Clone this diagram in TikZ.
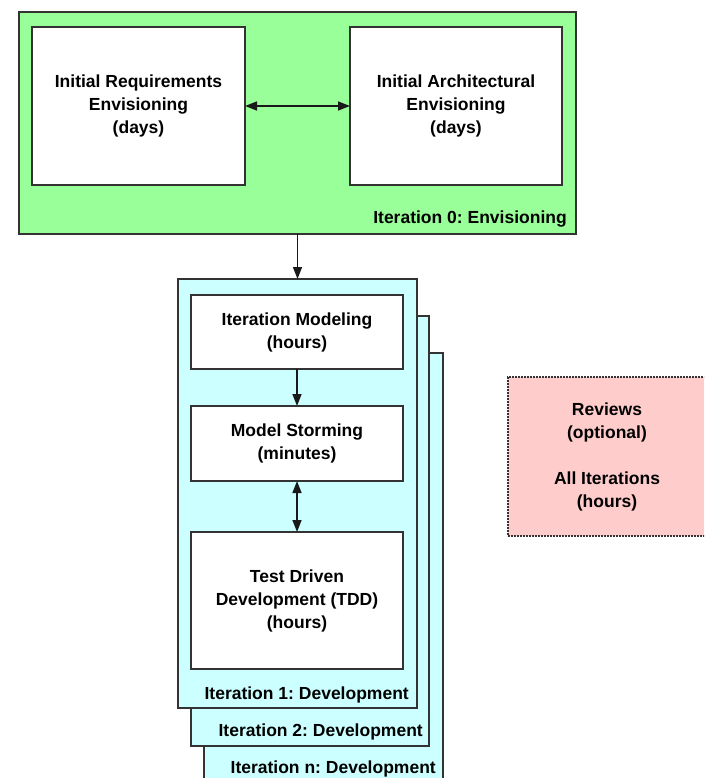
\documentclass[tikz,border=0pt]{standalone}
\usepackage{fontspec}
\setmainfont{Liberation Sans}
\usetikzlibrary{arrows.meta,calc}
\frenchspacing
\definecolor{envgreen}{HTML}{99FF99}
\definecolor{devcyan}{HTML}{CCFFFF}
\definecolor{revpink}{HTML}{FFCCCC}
\definecolor{edge}{HTML}{333333}
\tikzset{
  every node/.style={font=\fontsize{17.5}{23}\selectfont\bfseries},
  box/.style={draw=edge, line width=1.8pt, align=center, inner sep=0pt, outer sep=0pt},
  whitebox/.style={box, fill=white},
  phase/.style={box},
  lbl/.style={inner sep=0pt, anchor=base east},
  conn/.style={draw=black!90, line width=1.6pt, -{Triangle[length=12pt,width=9pt]}},
  dconn/.style={draw=black!90, line width=1.6pt, {Triangle[length=12pt,width=9pt]}-{Triangle[length=12pt,width=9pt]}}
}
\begin{document}
\begin{tikzpicture}[x=1pt,y=-1pt]
\useasboundingbox (0,0) rectangle (704,778);
\clip (0,0) rectangle (704,778);
% Iteration 0
\node[phase, fill=envgreen, minimum width=557pt, minimum height=222pt] (g) at (297.5,123) {};
\node[whitebox, minimum width=213pt, minimum height=158pt] (ire) at (138.5,106) {Initial Requirements\\Envisioning\\(days)};
\node[whitebox, minimum width=212pt, minimum height=158pt] (iae) at (456,106) {Initial Architectural\\Envisioning\\(days)};
\node[lbl] (gl) at ($(g.south east)+(-9,-11)$) {Iteration 0: Envisioning};
\draw[dconn] (ire) -- (iae);
% Development stack
\node[phase, fill=devcyan, minimum width=239pt, minimum height=437pt] (c3) at (323.5,571.5) {};
\node[phase, fill=devcyan, minimum width=238pt, minimum height=430pt] (c2) at (310,531) {};
\node[phase, fill=devcyan, minimum width=239pt, minimum height=429pt] (c1) at (297.5,493.5) {};
\node[lbl] (c3l) at (436,773) {Iteration n: Development};
\node[lbl] (c2l) at ($(c2.south east)+(-6,-10)$) {Iteration 2: Development};
\node[lbl] (c1l) at ($(c1.south east)+(-8,-9)$) {Iteration 1: Development};
\node[whitebox, minimum width=212pt, minimum height=74pt] (im) at (297,332) {Iteration Modeling\\(hours)};
\node[whitebox, minimum width=212pt, minimum height=75pt] (ms) at (297,443.5) {Model Storming\\(minutes)};
\node[whitebox, minimum width=212pt, minimum height=137pt] (tdd) at (297,600.5) {Test Driven\\Development (TDD)\\(hours)};
\draw[conn] (g.south -| c1.north) -- (c1.north);
\draw[conn] (im) -- (ms);
\draw[dconn] (ms) -- (tdd);
% Reviews
\node[box, fill=revpink, draw=edge, line width=1.3pt, dash pattern=on 2pt off 1pt, minimum width=198pt, minimum height=159pt] (rev) at (607,456.5) {Reviews\\(optional)\\[23pt]All Iterations\\(hours)};
\end{tikzpicture}
\end{document}
